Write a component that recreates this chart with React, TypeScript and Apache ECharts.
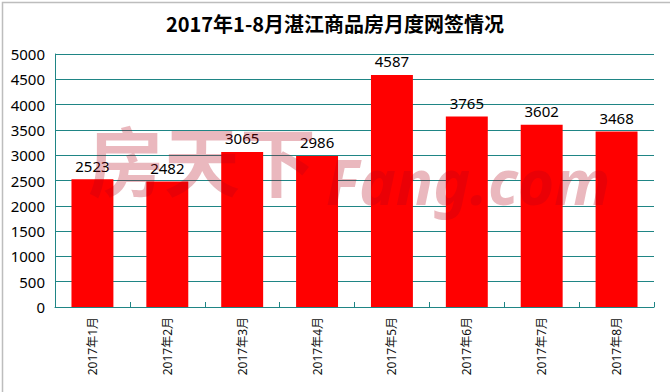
import React, { useEffect, useRef } from "react";
import * as echarts from "echarts";

const title = "2017年1-8月湛江商品房月度网签情况";
const categories = ["2017年1月", "2017年2月", "2017年3月", "2017年4月", "2017年5月", "2017年6月", "2017年7月", "2017年8月"];
const values = [2523, 2482, 3065, 2986, 4587, 3765, 3602, 3468];
const yMin = 0;
const yMax = 5000;
const yInterval = 500;
const watermarkCn = "房天下";
const watermarkEn = "Fang.com";

const FONT = "'Noto Sans', 'Noto Sans CJK SC', sans-serif";
const TEAL = "#1f8585";

export default function App() {
  const ref = useRef<HTMLDivElement>(null);
  useEffect(() => {
    document.body.style.margin = "0";
    const chart = echarts.init(ref.current!, null, { renderer: "svg" });
    chart.setOption({
      animation: false,
      backgroundColor: "#ffffff",
      title: {
        text: title,
        left: "center",
        top: 8,
        textStyle: { fontFamily: "'Noto Sans CJK SC', sans-serif", fontSize: 20, fontWeight: "bold", color: "#000" },
      },
      grid: { left: 55, right: 16, top: 54, bottom: 85 },
      xAxis: {
        type: "category",
        data: categories,
        axisLine: { lineStyle: { color: TEAL, width: 1 } },
        axisTick: { show: true, inside: true, length: 5, alignWithLabel: false, lineStyle: { color: TEAL } },
        axisLabel: { rotate: 90, fontSize: 12, color: "#111", fontFamily: FONT, margin: 10 },
      },
      yAxis: {
        type: "value",
        min: yMin,
        max: yMax,
        interval: yInterval,
        axisLine: { show: true, lineStyle: { color: TEAL, width: 1 } },
        axisTick: { show: false },
        splitLine: { lineStyle: { color: TEAL, width: 1 } },
        axisLabel: { fontSize: 15, color: "#000", fontFamily: FONT, margin: 10, formatter: (v: number) => String(v) },
      },
      series: [
        {
          type: "bar",
          data: values,
          barWidth: "56%",
          itemStyle: { color: "#ff0000" },
          z: 2,
          label: { show: true, position: "top", distance: 6, fontSize: 15, color: "#000", fontFamily: FONT },
        },
      ],
      graphic: [
        {
          type: "text",
          left: 88,
          top: 120,
          z: 10,
          silent: true,
          style: {
            text: watermarkCn,
            fontSize: 76,
            fontFamily: "'Noto Sans CJK SC', sans-serif",
            fontWeight: "bold",
            fill: "rgba(180,0,20,0.28)",
          },
        },
        {
          type: "text",
          left: 326,
          top: 150,
          z: 10,
          silent: true,
          style: {
            text: watermarkEn,
            fontSize: 62,
            fontFamily: "'Noto Sans', sans-serif",
            fontWeight: "bold",
            fontStyle: "italic",
            fill: "rgba(180,0,20,0.28)",
          },
        },
        {
          type: "rect",
          left: 0,
          top: 0,
          z: 20,
          silent: true,
          shape: { x: 0, y: 0, width: 669, height: 391 },
          style: { fill: "none", stroke: "#bdbdbd", lineWidth: 1.5 },
        },
      ],
    });
    return () => chart.dispose();
  }, []);
  return <div ref={ref} style={{ width: 670, height: 392 }} />;
}
